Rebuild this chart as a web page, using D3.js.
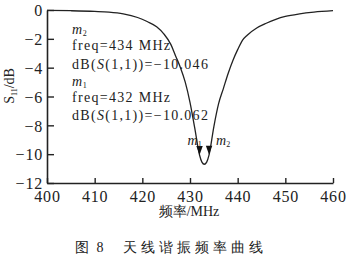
<!DOCTYPE html>
<html>
<head>
<meta charset="utf-8">
<script src="https://cdn.jsdelivr.net/npm/d3@7"></script>
<style>
  body { margin: 0; background: #fff; }
  text { font-family: "Liberation Serif", "DejaVu Serif", serif; fill: #222; }
</style>
</head>
<body>
<script>
// S11 curve
var freqs = [400, 405, 410, 413, 416, 419, 421, 423, 424.5, 426, 427, 428, 429, 430, 431, 432, 432.5, 433, 433.5, 434, 435, 436, 437, 438, 439, 440, 441, 442, 444, 446, 448, 450, 453, 456, 460];
var s11 = [-0.02, -0.05, -0.1, -0.15, -0.27, -0.52, -0.8, -1.16, -1.65, -2.4, -3.2, -4.0, -5.0, -6.4, -8.2, -10.06, -10.55, -10.7, -10.55, -10.05, -8.1, -6.5, -5.45, -4.4, -3.5, -2.75, -2.1, -1.75, -1.25, -0.92, -0.65, -0.45, -0.27, -0.15, -0.05];

var xTicks = [400, 410, 420, 430, 440, 450, 460];
var yTicks = [0, -2, -4, -6, -8, -10, -12];

// markers
var markerNames = ["1", "2"];
var markerFreqs = [432, 434];
var markerVals = [-10.062, -10.046];

window.onload = function() {
  var w = 350;
  var h = 263;

  var svg = d3.select("body")
              .append("svg")
              .attr("width", w)
              .attr("height", h);

  var x = d3.scaleLinear().domain([400, 460]).range([47, 333]);
  var y = d3.scaleLinear().domain([-12, 0]).range([183, 10]);

  var data = freqs.map(function(f, i) { return {f: f, v: s11[i]}; });

  // axes, ticks pointing inward
  var xAxis = svg.append("g")
     .attr("transform", "translate(0," + y(-12) + ")")
     .call(d3.axisBottom(x).tickValues(xTicks).tickSizeInner(-5).tickSizeOuter(0).tickPadding(8));

  var yAxis = svg.append("g")
     .attr("transform", "translate(" + x(400) + ",0)")
     .call(d3.axisLeft(y).tickValues(yTicks).tickSizeInner(-7).tickSizeOuter(0).tickPadding(4)
       .tickFormat(function(d) { return d == 0 ? "0" : "\u2212" + Math.abs(d); }));

  [xAxis, yAxis].forEach(function(a) {
    a.select(".domain").attr("stroke", "#222").attr("stroke-width", 1.6);
    a.selectAll(".tick line").attr("stroke", "#222").attr("stroke-width", 1.4);
    a.selectAll(".tick text")
     .attr("font-family", "Liberation Serif, serif")
     .attr("font-size", 16)
     .attr("letter-spacing", 0.8)
     .attr("fill", "#222");
  });
  yAxis.selectAll(".tick text").attr("dy", "0.36em");

  // curve
  var line = d3.line()
     .x(function(d) { return x(d.f); })
     .y(function(d) { return y(d.v); })
     .curve(d3.curveMonotoneX);

  svg.append("path")
     .datum(data)
     .attr("d", line)
     .attr("fill", "none")
     .attr("stroke", "#222")
     .attr("stroke-width", 1.3);

  // marker triangles
  markerFreqs.forEach(function(f, i) {
    var px = x(f), py = y(markerVals[i]);
    svg.append("path")
       .attr("d", "M" + (px - 3.2) + "," + (py - 9) + "L" + (px + 3.2) + "," + (py - 9) + "L" + px + "," + py + "Z")
       .attr("fill", "#111");
  });

  var mLabels = [{name: "1", px: x(432) - 12, py: 145}, {name: "2", px: x(434) + 7, py: 145}];
  mLabels.forEach(function(m) {
    var t = svg.append("text").attr("x", m.px).attr("y", m.py).attr("font-size", 14);
    t.append("tspan").attr("font-style", "italic").text("m");
    t.append("tspan").attr("font-size", 8).attr("dy", 2).text(m.name);
  });

  // marker readout
  var lines = [
    {kind: "m", name: markerNames[1], y: 34},
    {kind: "t", text: "freq=" + markerFreqs[1] + " MHz", y: 50},
    {kind: "db", val: markerVals[1], y: 69},
    {kind: "m", name: markerNames[0], y: 86},
    {kind: "t", text: "freq=" + markerFreqs[0] + " MHz", y: 102},
    {kind: "db", val: markerVals[0], y: 120}
  ];
  lines.forEach(function(l) {
    var t = svg.append("text")
       .attr("x", 72)
       .attr("y", l.y)
       .attr("font-size", 14)
       .attr("letter-spacing", 1.3);
    if (l.kind == "m") {
      t.attr("letter-spacing", 0.5);
      t.append("tspan").attr("font-style", "italic").text("m");
      t.append("tspan").attr("font-size", 8).attr("dy", 2).text(l.name);
    } else if (l.kind == "t") {
      t.text(l.text);
    } else {
      t.append("tspan").text("dB(");
      t.append("tspan").attr("font-style", "italic").text("S");
      t.append("tspan").text("(1,1))=\u2212" + Math.abs(l.val).toFixed(3));
    }
  });

  // axis titles
  var yl = svg.append("text")
     .attr("transform", "translate(14,86) rotate(-90)")
     .attr("text-anchor", "middle")
     .attr("font-size", 14);
  yl.append("tspan").text("S");
  yl.append("tspan").attr("font-size", 8).attr("dy", 3).text("11");
  yl.append("tspan").attr("dy", -3).text("/dB");

  svg.append("text")
     .attr("x", 189)
     .attr("y", 216)
     .attr("text-anchor", "middle")
     .attr("font-family", "Noto Sans CJK SC, serif")
     .attr("font-size", 14)
     .text("频率/MHz");

  svg.append("text")
     .attr("x", 75)
     .attr("y", 252)
     .attr("font-family", "Noto Sans CJK SC, serif")
     .attr("font-size", 14)
     .attr("letter-spacing", 2)
     .text("图 8");

  svg.append("text")
     .attr("x", 123)
     .attr("y", 252)
     .attr("font-family", "Noto Sans CJK SC, serif")
     .attr("font-size", 14)
     .attr("letter-spacing", 4)
     .text("天线谐振频率曲线");
};
</script>
</body>
</html>
